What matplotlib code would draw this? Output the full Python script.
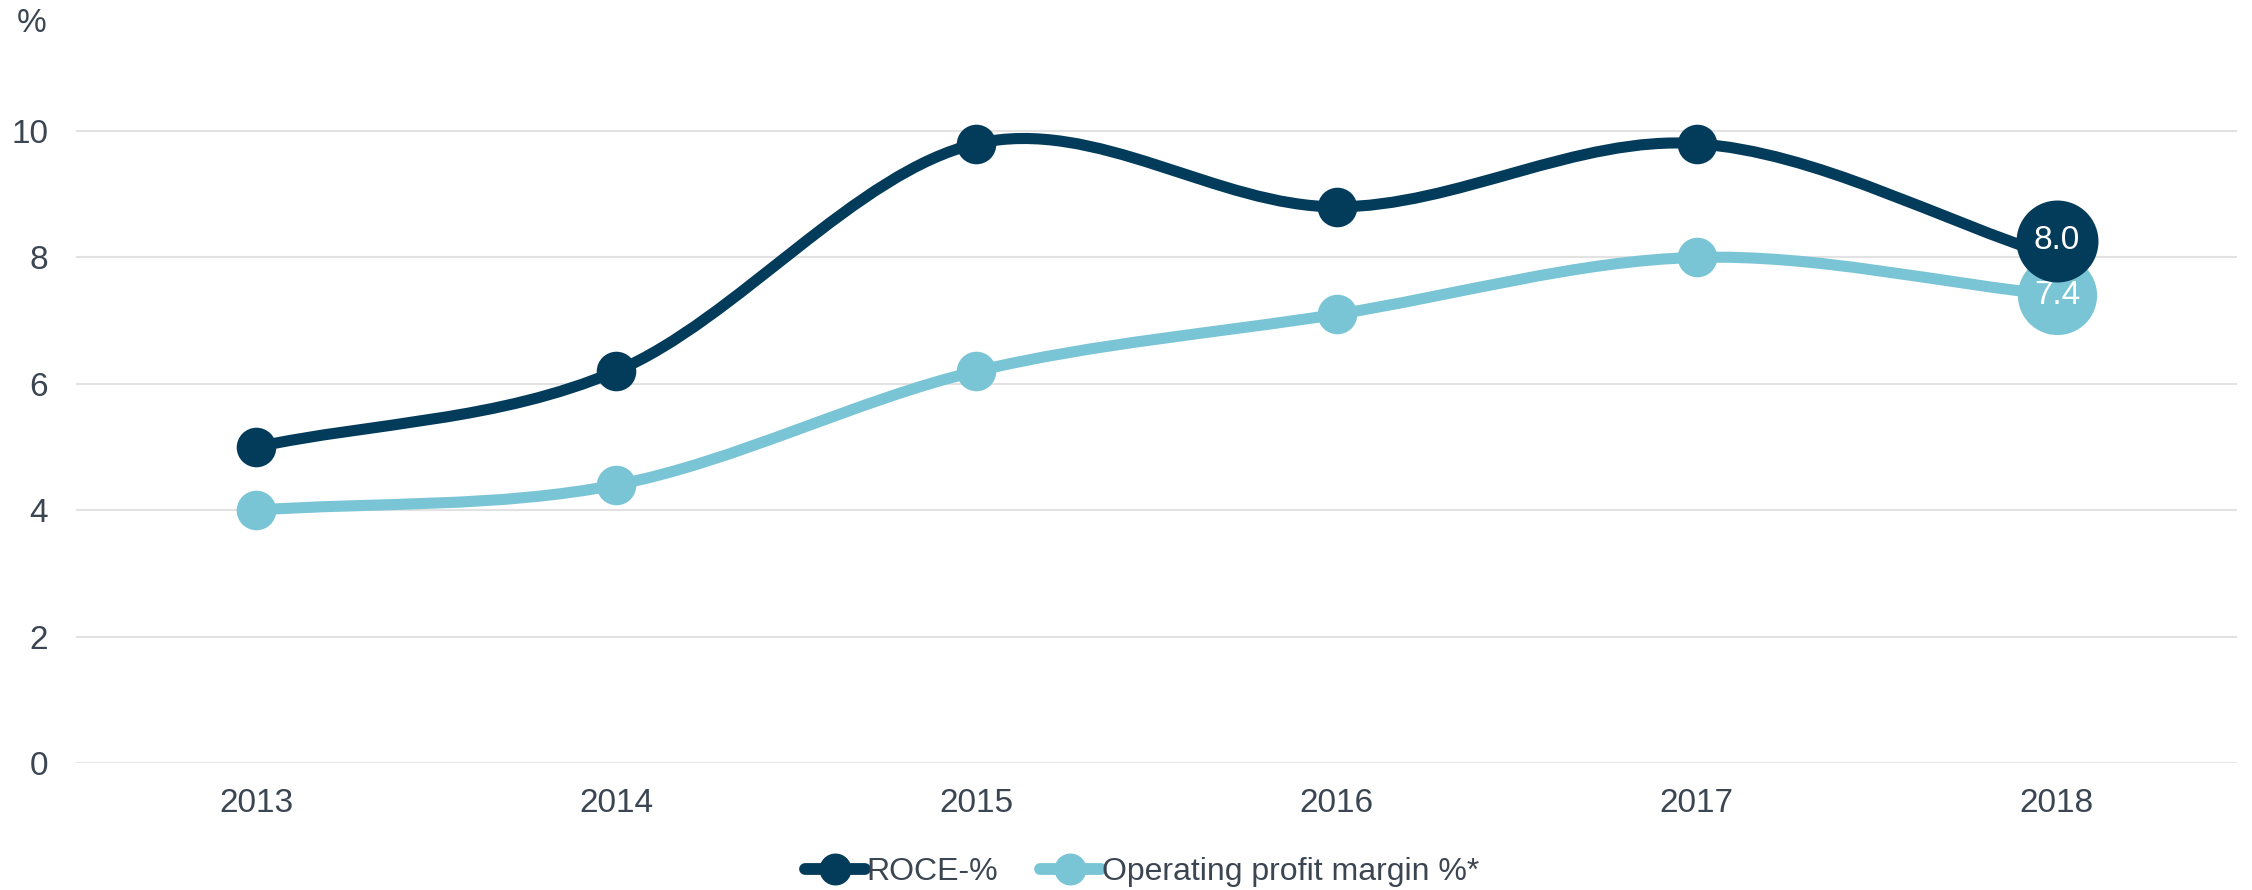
import numpy as np
import matplotlib
matplotlib.use("Agg")
import matplotlib.pyplot as plt
from matplotlib.path import Path
from matplotlib.patches import PathPatch
from matplotlib.lines import Line2D
import matplotlib.transforms as mtransforms

years = [2013, 2014, 2015, 2016, 2017, 2018]
roce = [5.0, 6.2, 9.8, 8.8, 9.8, 8.0]
opm = [4.0, 4.4, 6.2, 7.1, 8.0, 7.4]
series_names = ["ROCE-%", "Operating profit margin %*"]
yticks = [0, 2, 4, 6, 8, 10]

DARK = "#033b5b"
LIGHT = "#79c5d5"
TEXT = "#3c4653"
GRID = "#e2e2e2"

plt.rcParams['font.family'] = ['Liberation Sans', 'DejaVu Sans']
FS = 24

W, H = 2252, 890
fig = plt.figure(figsize=(W / 100, H / 100), dpi=100)
ymax = 11.5
ppu = 63.2
left_px, right_px, bottom_px = 76, 2237, 763
ax = fig.add_axes([left_px / W, 1 - bottom_px / H, (right_px - left_px) / W, ymax * ppu / H])
ax.set_xlim(years[0] - 0.5, years[-1] + 0.5)
ax.set_ylim(0, ymax)
for s in ax.spines.values():
    s.set_visible(False)
ax.set_yticks(yticks)
ax.set_xticks(years)
ax.set_xticklabels([str(y) for y in years])
ax.tick_params(axis='both', length=0, labelsize=FS, colors=TEXT)
ax.tick_params(axis='y', pad=20)
ax.tick_params(axis='x', pad=18)
for t in yticks:
    ax.axhline(t, color="#e6e6e6" if t == 0 else GRID, lw=1.5, zorder=0)


def spline_path(xs, ys):
    xs = np.asarray(xs, float)
    ys = np.asarray(ys, float)
    n = len(xs)
    m = np.zeros(n)
    for i in range(n):
        if i == 0:
            m[i] = (ys[1] - ys[0]) / (xs[1] - xs[0])
        elif i == n - 1:
            m[i] = (ys[-1] - ys[-2]) / (xs[-1] - xs[-2])
        else:
            m[i] = (ys[i + 1] - ys[i - 1]) / (xs[i + 1] - xs[i - 1])
    verts = [(xs[0], ys[0])]
    codes = [Path.MOVETO]
    for i in range(n - 1):
        dx = xs[i + 1] - xs[i]
        verts += [(xs[i] + dx / 3, ys[i] + m[i] * dx / 3),
                  (xs[i + 1] - dx / 3, ys[i + 1] - m[i + 1] * dx / 3),
                  (xs[i + 1], ys[i + 1])]
        codes += [Path.CURVE4] * 3
    return Path(verts, codes)


lw = 8
for vals, col, z in [(opm, LIGHT, 2), (roce, DARK, 3)]:
    patch = PathPatch(spline_path(years, vals), facecolor='none', edgecolor=col,
                      lw=lw, capstyle='round', joinstyle='round', zorder=z)
    ax.add_patch(patch)
    ax.plot(years[:-1], vals[:-1], 'o', color=col, ms=28.5, mew=0, zorder=z + 0.5)

# end bubbles with value labels
dark_tr = mtransforms.offset_copy(ax.transData, fig=fig, x=0, y=12, units='points')
ax.plot([years[-1]], [opm[-1]], 'o', color=LIGHT, ms=57, mew=0, zorder=4)
ax.text(years[-1], opm[-1], f"{opm[-1]:.1f}", color='white', fontsize=FS,
        ha='center', va='center', zorder=4.5)
ax.plot([years[-1]], [roce[-1]], 'o', color=DARK, ms=59, mew=0, zorder=5, transform=dark_tr)
ax.text(years[-1], roce[-1], f"{roce[-1]:.1f}", color='white', fontsize=FS,
        ha='center', va='center', zorder=5.5, transform=dark_tr)

fig.text(32 / W, 1 - 23 / H, "%", color=TEXT, fontsize=FS, ha='center', va='center')

handles = [Line2D([], [], color=DARK, lw=8.5, marker='o', ms=22, solid_capstyle='round'),
           Line2D([], [], color=LIGHT, lw=8.5, marker='o', ms=22, solid_capstyle='round')]
leg = fig.legend(handles, series_names, loc='center', bbox_to_anchor=(1142 / W, 1 - 872 / H),
                 ncol=2, frameon=False, fontsize=23, handlelength=1.9,
                 handletextpad=0.05, columnspacing=1.3, labelcolor=TEXT)

fig.savefig("out.png", dpi=100)
